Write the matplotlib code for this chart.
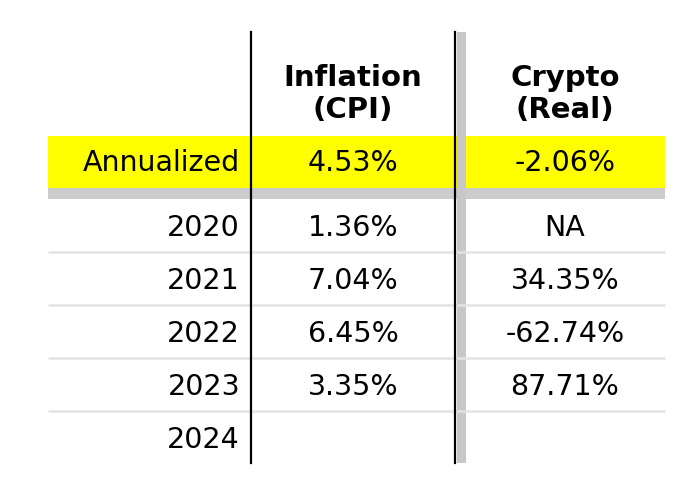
import matplotlib.pyplot as plt
from matplotlib.patches import Rectangle

# table data
headers = ["Inflation\n(CPI)", "Crypto\n(Real)"]
annual_label = "Annualized"
annual_vals = ["4.53%", "-2.06%"]
years = ["2020", "2021", "2022", "2023", "2024"]
inflation = ["1.36%", "7.04%", "6.45%", "3.35%", ""]
crypto = ["NA", "34.35%", "-62.74%", "87.71%", ""]

fig = plt.figure(figsize=(7, 4.83), dpi=100)
ax = fig.add_axes([0, 0, 1, 1])
ax.set_xlim(0, 700)
ax.set_ylim(483, 0)
ax.axis("off")

left, right = 48, 665
col_x = [353, 565]
year_x = 240
row_h = 53.1
first_row = 227.5

# highlighted annualized row + thick gray separator
ax.add_patch(Rectangle((left, 136), right - left, 52, color="#ffff00", lw=0))
ax.add_patch(Rectangle((left, 188), right - left, 11, color="#cccccc", lw=0))

# light row separators
for i in range(len(years) - 1):
    y = first_row + (i + 0.5) * row_h - 2
    ax.plot([left, right], [y, y], color="#e3e3e3", lw=1.8, solid_capstyle="butt")

# column dividers
ax.add_patch(Rectangle((456.5, 32), 9.5, 431, color="#c8c8c8", lw=0))
ax.plot([251, 251], [32, 463], color="black", lw=1.6)
ax.plot([455, 455], [32, 463], color="black", lw=1.6)

fs = 20.5
for x, h in zip(col_x, headers):
    ax.text(x, 94, h, ha="center", va="center", fontsize=21,
            fontweight="bold", linespacing=1.15)

ax.text(year_x, 163, annual_label, ha="right", va="center", fontsize=fs)
for x, v in zip(col_x, annual_vals):
    ax.text(x, 163, v, ha="center", va="center", fontsize=fs)

for i, yr in enumerate(years):
    y = first_row + i * row_h
    ax.text(year_x, y, yr, ha="right", va="center", fontsize=fs)
    ax.text(col_x[0], y, inflation[i], ha="center", va="center", fontsize=fs)
    ax.text(col_x[1], y, crypto[i], ha="center", va="center", fontsize=fs)

plt.savefig("out.png", dpi=100)
